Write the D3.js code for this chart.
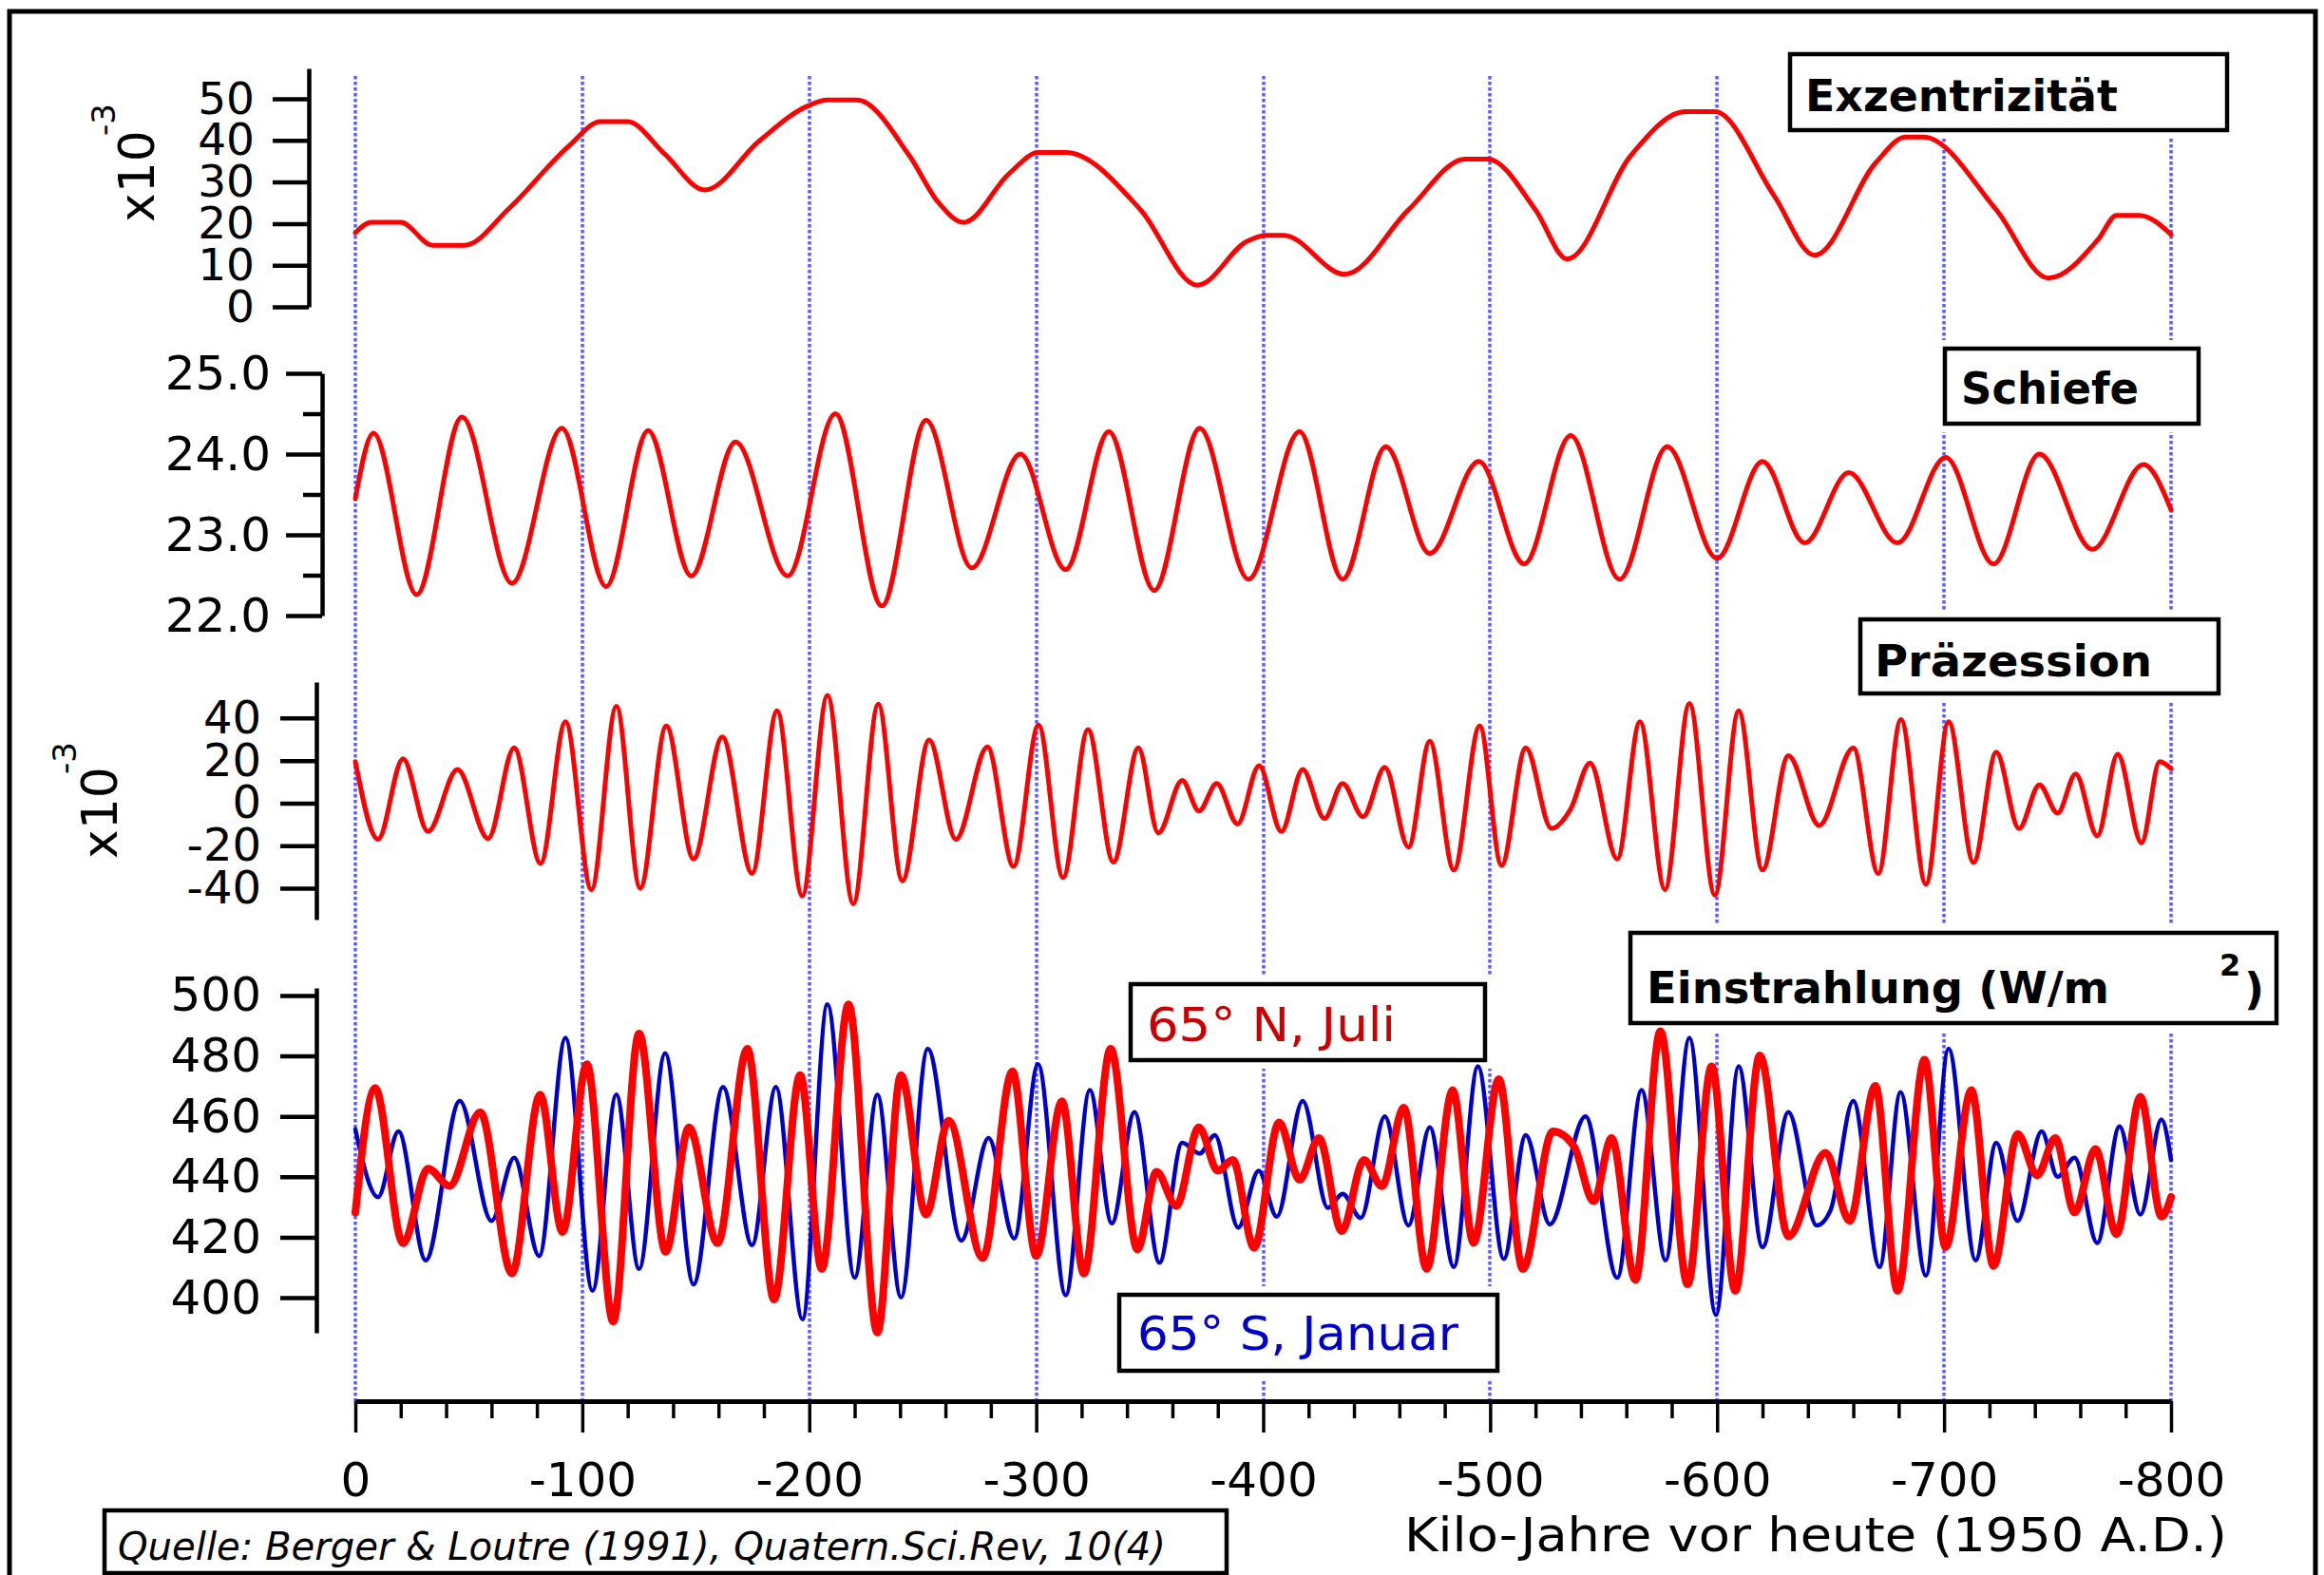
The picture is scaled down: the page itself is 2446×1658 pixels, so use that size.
<!DOCTYPE html>
<html>
<head>
<meta charset="utf-8">
<script src="https://cdn.jsdelivr.net/npm/d3@7"></script>
<style>
  html, body { margin: 0; padding: 0; background: #fff; }
  svg { display: block; }
  text { font-family: 'DejaVu Sans', Verdana, sans-serif; }
</style>
</head>
<body>
<div id="chart"></div>
<script>
// ---- data (time in kyr, negative = before 1950) ----
const xTicks      = [0, -100, -200, -300, -400, -500, -600, -700, -800];
const xMinorTicks = [-20, -40, -60, -80, -120, -140, -160, -180, -220, -240, -260, -280,
  -320, -340, -360, -380, -420, -440, -460, -480, -520, -540, -560, -580,
  -620, -640, -660, -680, -720, -740, -760, -780];

const eccTicks    = [0, 10, 20, 30, 40, 50];
const obTicks     = [22, 23, 24, 25];
const obMinor     = [22.5, 23.5, 24.5];
const precTicks   = [-40, -20, 0, 20, 40];
const insTicks    = [400, 420, 440, 460, 480, 500];

// Exzentrizität (x10^-3)
const ecc = [[0,17.8],[-7,20.3],[-20,20.3],[-34,14.8],[-48,14.8],[-68,23.8],[-94,38.6],[-108,44.5],
  [-120,44.5],[-136,36.9],[-154,28.1],[-178,39.9],[-199,48.2],[-208,49.7],[-221,49.7],[-244,36.4],
  [-257,25],[-268,20.3],[-288,32],[-301,37.1],[-313,37.1],[-346,23.3],[-371,5.2],[-393,15.8],
  [-401,17.2],[-409,17.2],[-436,7.8],[-464,23.3],[-489,35.5],[-499,35.5],[-520,23.3],[-534,11.5],
  [-562,36.4],[-586,46.9],[-599,46.9],[-625,26.8],[-643,12.4],[-670,34.7],[-683,40.8],[-691,40.8],
  [-723,23.3],[-746,6.9],[-768,16.3],[-776,22],[-786,22],[-800,17.4]];

// Schiefe (Grad)
const obliq = [[0,23.45],[-8,24.26],[-27,22.26],[-47,24.46],[-69,22.4],[-91,24.32],[-110.5,22.36],
  [-129,24.29],[-148,22.49],[-167.5,24.15],[-190.5,22.49],[-211.5,24.5],[-232,22.12],[-251.5,24.42],
  [-271.6,22.59],[-293,24.0],[-313,22.57],[-332,24.28],[-352,22.31],[-372,24.32],[-393.5,22.45],
  [-416,24.28],[-435,22.45],[-454,24.09],[-473.4,22.77],[-495,23.91],[-515,22.64],[-535.5,24.23],
  [-557,22.45],[-578,24.09],[-600,22.71],[-620,23.91],[-638.6,22.9],[-658,23.77],[-679.5,22.9],
  [-700.7,23.96],[-721.8,22.64],[-742,24.0],[-765.4,22.82],[-787.8,23.87],[-800,23.31]];

// Präzession (x10^-3)
const prec = [[0,19.5],[-10,-17],[-21,20.9],[-32,-13.3],[-45,15.8],[-58.5,-16.6],[-70,26],[-81.6,-28.3],
  [-92.6,38.3],[-104,-40.6],[-115,45.5],[-125.5,-40],[-137,36.3],[-149,-26.2],[-161.7,31.1],
  [-174.8,-33],[-185.8,43.4],[-196.9,-43.6],[-208,50.6],[-219.4,-47.3],[-230.4,46.5],[-241,-36.5],
  [-252.8,29.7],[-264.6,-17],[-278.5,26.4],[-290,-29.7],[-301,36.7],[-311.8,-35],[-322.8,34.6],
  [-334,-27.7],[-345,26],[-353.8,-14],[-364.3,10.7],[-371.7,-3.7],[-379.5,9.2],[-388.7,-9.8],
  [-398.2,17.6],[-408,-13.3],[-417.4,15.8],[-427,-7.2],[-435,9.2],[-444,-6.4],[-453.6,16.8],
  [-464,-20.7],[-473.4,29.1],[-484,-31.4],[-495.4,36.3],[-505,-29.3],[-515.7,26],[-527,-11.9],
  [-535.5,-2.7],[-544,18.9],[-556,-26.2],[-566,38.3],[-577,-40.6],[-587.8,46.9],[-599,-43.2],
  [-609.5,43.4],[-620,-31.4],[-631.4,22.3],[-645,-10.5],[-660,26],[-671,-33],[-681,39.3],
  [-692,-38.1],[-702,38.3],[-713,-27.9],[-723,24],[-733,-11.9],[-742,8.6],[-750,-4.7],[-758,13.7],
  [-767.5,-15.4],[-776.5,23],[-787,-18.6],[-795,19.5],[-800,16.2]];

// Einstrahlung 65° N, Juli (W/m²)
const insN = [[0,428.2],[-8.7,469.4],[-21,418],[-32,442.7],[-41.5,437],[-55,461.4],[-69,408],
  [-81.4,467.2],[-91.3,421.7],[-102,477.3],[-113.6,392.1],[-125,487.4],[-136.7,415.2],[-147,456.4],
  [-159.6,418],[-172.7,482.4],[-184.5,399.4],[-196,473.7],[-205.5,409.5],[-217.3,497.1],[-230,388.5],
  [-240.4,473.7],[-251.4,427.5],[-261.4,458.6],[-276.4,413.1],[-289.5,474.9],[-300,413.8],
  [-311.3,465],[-321,408],[-332.8,482.4],[-344.6,416],[-353,441.7],[-361.7,430.4],[-371.7,456.4],
  [-380,442],[-386.6,445.6],[-396,416.5],[-407,458],[-416,439],[-424.6,452.8],[-434.6,422],
  [-444.4,445.6],[-452.3,436.9],[-462,462.9],[-472,409.5],[-483.5,468.7],[-492.7,418.1],
  [-503.8,472.3],[-514.4,409.5],[-527.6,455],[-537,450],[-545.6,431.9],[-553.5,452.8],[-564,405.9],
  [-575,488.2],[-587,404.4],[-597.6,476.6],[-608,402.3],[-618.8,480.2],[-631.4,420.3],[-647.8,448],
  [-658.4,425.4],[-669.7,470.1],[-679.5,402.3],[-691.4,478.8],[-700.7,416.7],[-712,468.7],
  [-721.8,410.5],[-732.4,454.2],[-741,440.5],[-749,452.8],[-757.5,428.2],[-766.7,449.2],[-776,421],
  [-786.5,466.5],[-795.8,426.8],[-800,433.3]];

// Einstrahlung 65° S, Januar (W/m²)
const insS = [[0,455.7],[-10,433.3],[-19,455],[-31,412.4],[-46,465.1],[-60,425.4],[-70,446.3],
  [-81,413.8],[-92.6,486],[-104.5,402.3],[-115,467.2],[-125,409.5],[-136.5,480.9],[-149,404.4],
  [-162,469.7],[-174.8,417.4],[-185.3,469.7],[-197,392.9],[-208,497.1],[-220,406.6],[-230,467.2],
  [-240.4,400.1],[-252.2,482.4],[-267,418.9],[-279,452.8],[-290.3,419.6],[-300.8,477.3],[-313,400.8],
  [-323.6,468.7],[-333.3,424.6],[-343.3,461.4],[-354.3,411.6],[-364.3,451.3],[-372,447.7],
  [-378.7,453.8],[-389,423.2],[-398,442],[-406,426.8],[-417.4,465.1],[-428.5,429.7],[-435,434.4],
  [-443,426.4],[-453.6,460],[-464,423.9],[-473.4,456.4],[-484,410.2],[-494.6,476.6],[-506,412.8],
  [-515.7,453.8],[-526.3,424.3],[-542,460],[-556,406.6],[-566.7,468.7],[-577.3,412.4],[-587.8,486],
  [-599.5,394.3],[-609.5,476.6],[-620,416.7],[-631.4,461.4],[-643.9,423.9],[-650,429],[-660,465.1],
  [-671.6,410.2],[-680.8,468],[-692,407.3],[-702,482.4],[-713.9,412.4],[-723,451.3],[-732.4,425.4],
  [-743,455],[-750,440],[-757.5,446.3],[-767.5,418.1],[-777.3,456.7],[-786.5,427.5],[-795.8,459],
  [-800,445.6]];

// ---- layout ----
const W = 2446, H = 1658;
const RED = '#ff0000', BLUE = '#0000cc', GRID = '#5c5cff';
const FONT = "'DejaVu Sans', Verdana, sans-serif";

const svg = d3.select('#chart').append('svg').attr('width', W).attr('height', H);

const x = d3.scaleLinear().domain([0, -800]).range([374, 2285]);
const yEcc  = d3.scaleLinear().domain([0, 57.3]).range([323, 72]);
const yOb   = d3.scaleLinear().domain([22, 25]).range([648, 393]);
const yPrec = d3.scaleLinear().domain([-54.7, 56.9]).range([968, 718]);
const yIns  = d3.scaleLinear().domain([388.4, 502.5]).range([1403, 1040]);

// outer frame
svg.append('rect').attr('x', 10).attr('y', 12).attr('width', 2427).attr('height', 1720)
  .attr('fill', 'none').attr('stroke', '#000').attr('stroke-width', 5);

// dotted verticals
svg.append('g').selectAll('line').data(xTicks).join('line')
  .attr('x1', d => Math.round(x(d))).attr('x2', d => Math.round(x(d)))
  .attr('y1', 80).attr('y2', 1475)
  .attr('stroke', GRID).attr('stroke-width', 3.5).attr('stroke-dasharray', '3.5,2.5');

// label boxes (geometry)
const boxes = [
  {x: 1884, y: 57,   w: 460, h: 80},
  {x: 2047, y: 367,  w: 267, h: 79},
  {x: 1958, y: 652,  w: 377, h: 78},
  {x: 1716, y: 982,  w: 680, h: 95},
  {x: 1190, y: 1036, w: 373, h: 80},
  {x: 1178, y: 1363, w: 398, h: 80}
];
// white halo hides the dotted lines around each box
svg.append('g').selectAll('rect').data(boxes).join('rect')
  .attr('x', d => d.x - 9).attr('y', d => d.y - 9)
  .attr('width', d => d.w + 18).attr('height', d => d.h + 18).attr('fill', '#fff');

// curves
const line = y => d3.line().x(d => x(d[0])).y(d => y(d[1])).curve(d3.curveMonotoneX);
function curve(data, y, color, width) {
  svg.append('path').datum(data).attr('d', line(y))
    .attr('fill', 'none').attr('stroke', color).attr('stroke-width', width)
    .attr('stroke-linejoin', 'round').attr('stroke-linecap', 'round');
}
curve(ecc, yEcc, RED, 5);
curve(obliq, yOb, RED, 5);
curve(prec, yPrec, RED, 5);
curve(insS, yIns, BLUE, 4.5);
curve(insN, yIns, RED, 8);

// boxes on top
svg.append('g').selectAll('rect').data(boxes).join('rect')
  .attr('x', d => d.x).attr('y', d => d.y).attr('width', d => d.w).attr('height', d => d.h)
  .attr('fill', '#fff').attr('stroke', '#000').attr('stroke-width', 4.5);

function label(txt, px, py, opts = {}) {
  const t = svg.append('text').attr('x', px).attr('y', py)
    .attr('font-size', opts.size || 46).attr('font-weight', opts.weight || 'bold')
    .attr('fill', opts.color || '#000').text(txt);
  if (opts.len) t.attr('textLength', opts.len).attr('lengthAdjust', 'spacingAndGlyphs');
  if (opts.style) t.attr('font-style', opts.style);
  return t;
}
label('Exzentrizität', 1900, 117, {len: 329});
label('Schiefe', 2064, 425, {len: 187});
label('Präzession', 1973, 712, {len: 292});
label('Einstrahlung (W/m', 1733, 1056, {len: 487});
label('2', 2336, 1027, {size: 32});
label(')', 2362, 1057);
label('65° N, Juli', 1207, 1096, {weight: 'normal', size: 50, color: '#cc0000', len: 262});
label('65° S, Januar', 1197, 1421, {weight: 'normal', size: 50, color: BLUE, len: 338});

// y axes
function yAxis(scale, xPos, ticks, fmt, pad, size) {
  const g = svg.append('g').attr('transform', `translate(${xPos},0)`)
    .call(d3.axisLeft(scale).tickValues(ticks).tickFormat(fmt)
      .tickSize(38).tickSizeOuter(0).tickPadding(pad));
  g.select('.domain').attr('stroke-width', 4.5);
  g.selectAll('.tick line').attr('stroke-width', 4.5);
  g.selectAll('.tick text').attr('font-size', size).attr('fill', '#000')
    .attr('font-family', FONT);
  return g;
}
yAxis(yEcc, 325, eccTicks, d => String(d), 19, 47);
yAxis(yOb, 339, obTicks, d => d.toFixed(1), 16, 50);
svg.append('g').attr('transform', 'translate(339,0)')
  .call(d3.axisLeft(yOb).tickValues(obMinor).tickFormat('').tickSize(20).tickSizeOuter(0))
  .call(g => g.select('.domain').remove())
  .selectAll('.tick line').attr('stroke-width', 4.5);
yAxis(yPrec, 333, precTicks, d => String(d), 20, 48);
yAxis(yIns, 333, insTicks, d => String(d), 20, 50);

// x10^-3 axis labels
function expo(bx, by, sx, sy) {
  svg.append('text').attr('transform', `translate(${bx},${by}) rotate(-90)`)
    .attr('font-size', 52).text('x10');
  svg.append('text').attr('transform', `translate(${sx},${sy}) rotate(-90)`)
    .attr('font-size', 34).text('-3');
}
expo(162, 234, 121, 143);
expo(123, 904, 80, 815);

// x axis
const gx = svg.append('g').attr('transform', 'translate(0,1475)')
  .call(d3.axisBottom(x).tickValues(xTicks).tickFormat(d => String(d))
    .tickSize(33).tickSizeOuter(0).tickPadding(31));
gx.select('.domain').attr('stroke-width', 5);
gx.selectAll('.tick line').attr('stroke-width', 3.5);
gx.selectAll('.tick text').attr('font-size', 50).attr('fill', '#000')
  .attr('font-family', FONT);
svg.append('g').attr('transform', 'translate(0,1475)')
  .call(d3.axisBottom(x).tickValues(xMinorTicks).tickFormat('').tickSize(18).tickSizeOuter(0))
  .call(g => g.select('.domain').remove())
  .selectAll('.tick line').attr('stroke-width', 3.5);

label('Kilo-Jahre vor heute (1950 A.D.)', 1478, 1633, {weight: 'normal', size: 50, len: 866});

// source box
svg.append('rect').attr('x', 110).attr('y', 1590).attr('width', 1181).attr('height', 66)
  .attr('fill', '#fff').attr('stroke', '#000').attr('stroke-width', 4.5);
label('Quelle: Berger & Loutre (1991), Quatern.Sci.Rev, 10(4)', 124, 1642,
  {weight: 'normal', size: 40, style: 'italic', len: 1103});
</script>
</body>
</html>
